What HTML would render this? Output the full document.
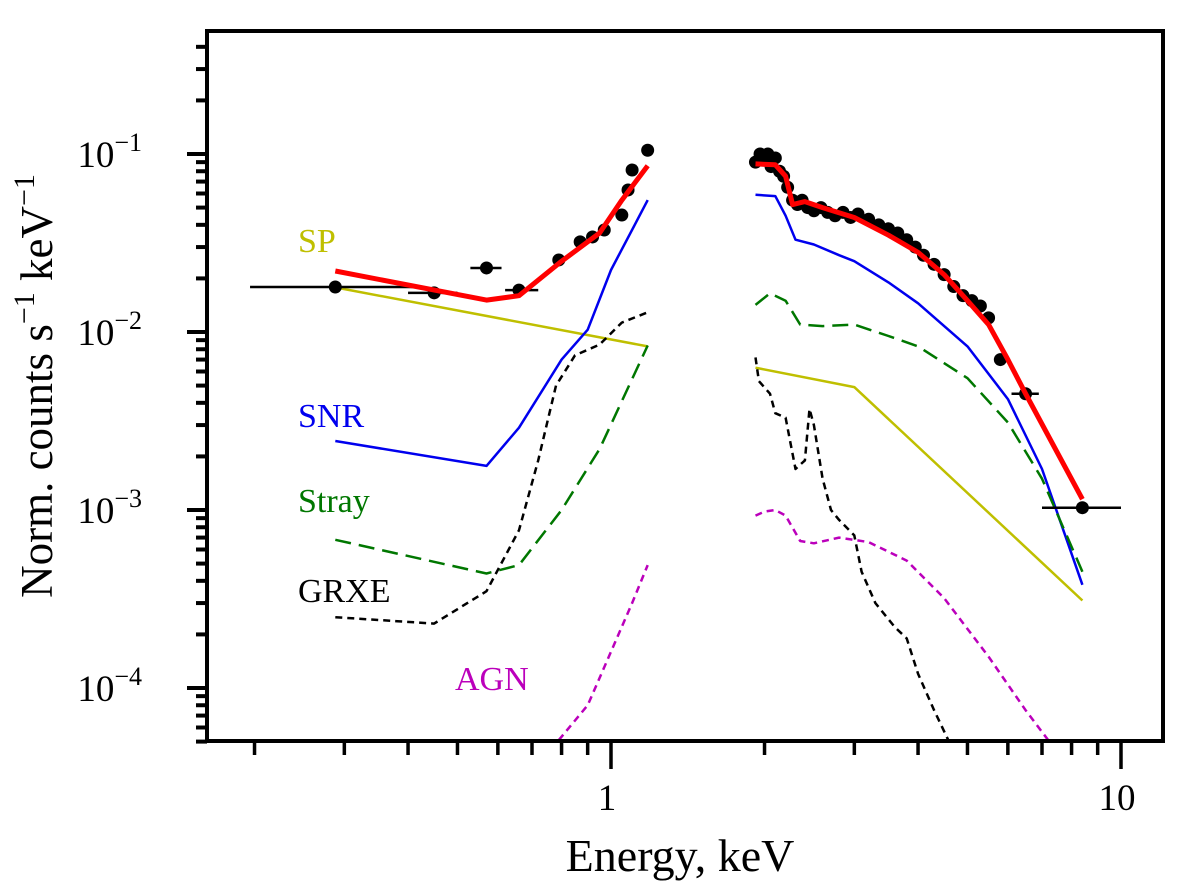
<!DOCTYPE html>
<html><head><meta charset="utf-8"><style>
html,body{margin:0;padding:0;background:#fff;}
svg{display:block;font-family:"Liberation Serif",serif;}
</style></head><body>
<svg id="chart" width="1200" height="896" viewBox="0 0 1200 896" xmlns="http://www.w3.org/2000/svg"></svg>
<script>
// data
const dataE=[0.288,0.45,0.57,0.66,0.79,0.87,0.92,0.97,1.05,1.08,1.10,1.18,
 1.92,1.96,2.0,2.03,2.06,2.1,2.14,2.18,2.22,2.27,2.32,2.37,2.43,2.5,2.58,2.66,2.75,2.85,2.95,3.05,3.2,3.35,3.5,3.65,3.8,3.95,4.1,4.3,4.5,4.7,4.9,5.1,5.3,5.5,5.8,6.5,8.4];
const dataF=[0.0179,0.0166,0.0229,0.0172,0.0254,0.0321,0.0342,0.0374,0.0454,0.0628,0.0813,0.105,
 0.09,0.1,0.095,0.1,0.085,0.095,0.08,0.075,0.065,0.055,0.052,0.055,0.05,0.048,0.05,0.047,0.045,0.047,0.044,0.046,0.043,0.04,0.038,0.036,0.033,0.03,0.027,0.024,0.021,0.018,0.016,0.015,0.014,0.012,0.007,0.0045,0.00103];
const errLo=[0.196,0.40,0.53,0.62,null,null,null,null,null,null,null,null];
const errHi=[0.42,0.50,0.61,0.72,null,null,null,null,null,null,null,null];
const errLoR=[[6.5,6.1],[8.4,7.0]];
const errHiR=[[6.5,6.9],[8.4,10.0]];
const totalL=[[0.288,0.022],[0.57,0.0151],[0.66,0.016],[0.8,0.025],[0.95,0.036],[1.05,0.055],[1.18,0.086]];
const totalR=[[1.92,0.088],[2.1,0.087],[2.2,0.075],[2.27,0.052],[2.4,0.054],[2.6,0.05],[3.0,0.044],[3.5,0.035],[4.0,0.028],[4.5,0.021],[5.0,0.015],[5.5,0.011],[6.0,0.007],[6.5,0.0045],[8.4,0.00115]];
const snrL=[[0.288,0.00244],[0.57,0.00177],[0.66,0.0029],[0.8,0.007],[0.9,0.0103],[1.0,0.0223],[1.18,0.0551]];
const snrR=[[1.92,0.059],[2.1,0.058],[2.2,0.045],[2.3,0.033],[2.5,0.031],[2.8,0.027],[3.0,0.025],[3.5,0.019],[4.0,0.0145],[5.0,0.0083],[6.0,0.0042],[7.0,0.0017],[8.4,0.00038]];
const spL=[[0.288,0.0178],[1.18,0.0083]];
const spR=[[1.92,0.0063],[3.0,0.0049],[8.4,0.00031]];
const strayL=[[0.288,0.00068],[0.57,0.00044],[0.66,0.00049],[0.8,0.001],[0.95,0.0022],[1.18,0.0084]];
const strayR=[[1.92,0.0142],[2.05,0.0165],[2.2,0.015],[2.35,0.011],[2.6,0.0108],[3.0,0.011],[3.5,0.0095],[4.0,0.0083],[5.0,0.0055],[6.0,0.0031],[7.0,0.0015],[8.4,0.00045]];
const grxeL=[[0.288,0.00025],[0.45,0.00023],[0.57,0.00035],[0.66,0.00077],[0.72,0.0019],[0.78,0.005],[0.85,0.0074],[0.95,0.0085],[1.05,0.0113],[1.18,0.0129]];
const grxeR=[[1.92,0.0072],[1.95,0.0053],[2.05,0.0045],[2.1,0.0035],[2.2,0.0033],[2.3,0.0017],[2.4,0.0019],[2.45,0.0037],[2.5,0.003],[2.6,0.0015],[2.7,0.001],[2.8,0.00088],[3.0,0.00072],[3.1,0.00045],[3.3,0.0003],[3.6,0.00022],[3.8,0.00019],[4.0,0.00012],[4.3,0.000075],[4.6,0.00005]];
const agnL=[[0.79,0.000051],[0.9,0.00008],[1.0,0.00016],[1.1,0.0003],[1.18,0.00049]];
const agnR=[[1.92,0.00093],[2.0,0.00098],[2.1,0.001],[2.2,0.00093],[2.35,0.00067],[2.5,0.00065],[2.8,0.0007],[3.2,0.00066],[3.8,0.00052],[4.5,0.00032],[5.5,0.00015],[6.5,0.000075],[7.2,0.000051]];
const yTickExp=[-1,-2,-3,-4];
const xTickLabels=[1,10];

const L=207,R=1163,T=31,B=741;
const xs=e=>611+510*Math.log10(e);
const ys=f=>154-178*(Math.log10(f)+1);
const svg=document.getElementById('chart');
const NS='http://www.w3.org/2000/svg';
function mk(tag,attrs,parent){const el=document.createElementNS(NS,tag);for(const k in attrs)el.setAttribute(k,attrs[k]);(parent||svg).appendChild(el);return el;}
const clip=mk('clipPath',{id:'pc'});mk('rect',{x:L,y:T,width:R-L,height:B-T},clip);
const g=mk('g',{'clip-path':'url(#pc)'});



function line(pts,color,w,dash,name){
  const p=mk('polyline',{points:pts.map(q=>xs(q[0]).toFixed(1)+','+ys(q[1]).toFixed(1)).join(' '),fill:'none',stroke:color,'stroke-width':w,'stroke-dasharray':dash||'none','stroke-linejoin':'round'},g);
  
  
}
line(spL,'#bfbf00',2.5,null,'sp-model-soft');line(spR,'#bfbf00',2.5,null,'sp-model-hard');
line(snrL,'#0000ee',2.5,null,'snr-model-soft');line(snrR,'#0000ee',2.5,null,'snr-model-hard');
line(strayL,'#007700',2.5,'16,8','stray-model-soft');line(strayR,'#007700',2.5,'16,8','stray-model-hard');
line(grxeL,'#000',2.5,'7,5','grxe-model-soft');line(grxeR,'#000',2.5,'7,5','grxe-model-hard');
line(agnL,'#bb00bb',2.5,'7,5','agn-model-soft');line(agnR,'#bb00bb',2.5,'7,5','agn-model-hard');

// data points
for(let i=0;i<dataE.length;i++){
  const cx=xs(dataE[i]),cy=ys(dataF[i]);
  if(errLo[i]!=null&&errLo[i]!==undefined){
    const eb=mk('line',{x1:xs(errLo[i]),x2:xs(errHi[i]),y1:cy,y2:cy,stroke:'#000','stroke-width':2.5},g);
    
    
  }
  const c=mk('circle',{cx:cx,cy:cy,r:6.5,fill:'#000'},g);
  
  
}
for(let j=0;j<errLoR.length;j++){
  const e=errLoR[j][0];const idx=dataE.indexOf(e);const cy=ys(dataF[idx]);
  const eb=mk('line',{x1:xs(errLoR[j][1]),x2:xs(errHiR[j][1]),y1:cy,y2:cy,stroke:'#000','stroke-width':2.5},g);
  
  
}
line(totalL,'#ff0000',5,null,'total-model-soft');line(totalR,'#ff0000',5,null,'total-model-hard');

// frame
const fr=mk('rect',{x:L,y:T,width:R-L,height:B-T,fill:'none',stroke:'#000','stroke-width':4});


// y ticks
for(let d=-5;d<=0;d++){for(let m=1;m<=9;m++){const v=m*Math.pow(10,d);const y=ys(v);if(y<T-1||y>B+1)continue;
  const t=mk('line',{x1:L,x2:L-(m===1?20:11),y1:y,y2:y,stroke:'#000','stroke-width':4});
  
  }}
yTickExp.forEach(ex=>{
  const t=mk('text',{x:142,y:ys(Math.pow(10,ex))+13,'font-size':37,'text-anchor':'end'});
  
  
  t.innerHTML='10<tspan dy="-16" font-size="26">−'+(-ex)+'</tspan>';
});
// x ticks
for(let d=-1;d<=1;d++){for(let m=1;m<=9;m++){const v=m*Math.pow(10,d);const x=xs(v);if(x<L+2||x>R-2)continue;
  const t=mk('line',{x1:x,x2:x,y1:B,y2:B+(m===1?28:14),stroke:'#000','stroke-width':3.5});
  
  }}
xTickLabels.forEach(v=>{
  const t=mk('text',{x:xs(v)-4,y:810,'font-size':37,'text-anchor':'middle'});
  
  
  t.textContent=String(v);
});
</script>
<svg style="position:absolute;left:0;top:0" width="1200" height="896">
<text x="680" y="871" font-size="46" text-anchor="middle" font-family="Liberation Serif, serif">Energy, keV</text>
<text transform="translate(52,386) rotate(-90)" font-size="45" text-anchor="middle" font-family="Liberation Serif, serif">Norm. counts s<tspan dy="-18" font-size="30">−1</tspan><tspan dy="18"> keV</tspan><tspan dy="-18" font-size="30">−1</tspan></text>
<text x="298" y="252" font-size="34" fill="#bfbf00" font-family="Liberation Serif, serif">SP</text>
<text x="298" y="427" font-size="34" fill="#0000ee" font-family="Liberation Serif, serif">SNR</text>
<text x="298" y="512" font-size="34" fill="#007700" font-family="Liberation Serif, serif">Stray</text>
<text x="298" y="602" font-size="34" fill="#000" font-family="Liberation Serif, serif">GRXE</text>
<text x="455" y="690" font-size="34" fill="#bb00bb" font-family="Liberation Serif, serif">AGN</text>
</svg>
</body></html>
